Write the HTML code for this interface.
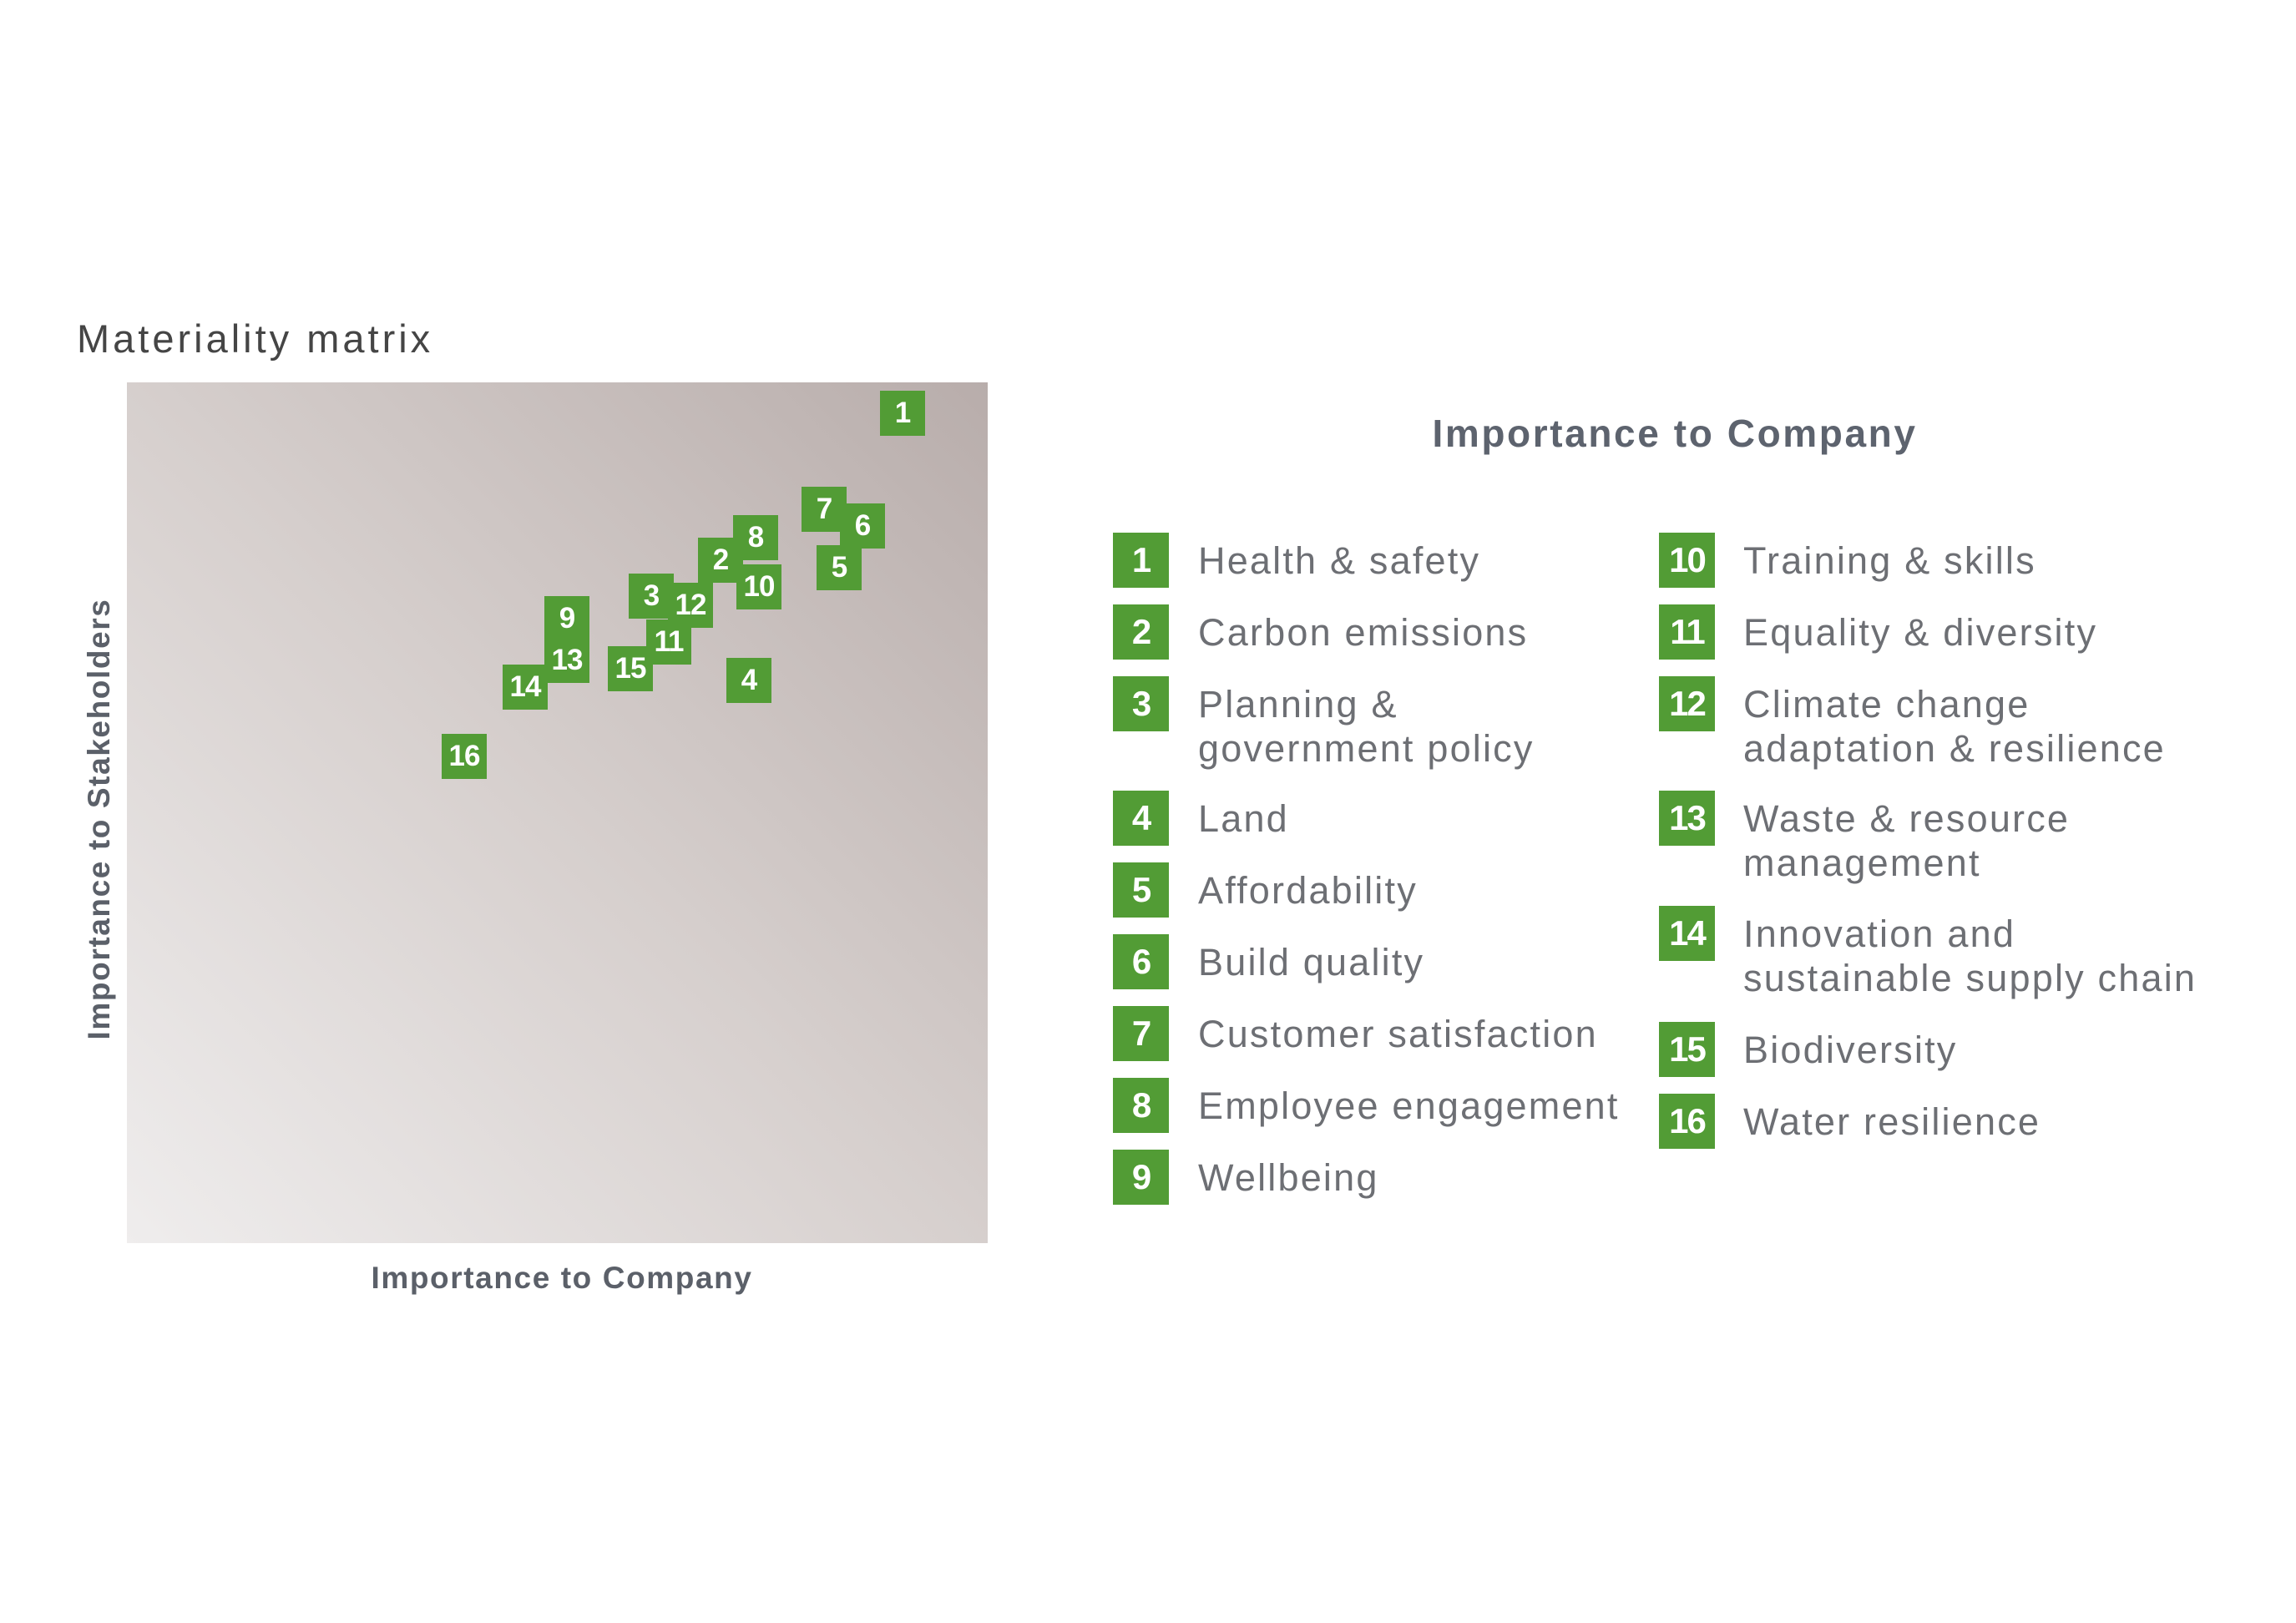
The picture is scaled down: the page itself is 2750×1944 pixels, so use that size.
<!DOCTYPE html>
<html><head><meta charset="utf-8"><style>
body{margin:0;width:2750px;height:1944px;background:#fff;position:relative;overflow:hidden;font-family:"Liberation Sans",sans-serif}
.a{position:absolute}
.m{position:absolute;width:54px;height:54px;background:#529c35;color:#fff;font-weight:bold;font-size:35px;line-height:54px;text-align:center;letter-spacing:-1px}
.b{position:absolute;width:67px;height:66px;background:#529c35;color:#fff;font-weight:bold;font-size:42px;line-height:66px;text-align:center;letter-spacing:-2px}
.t{position:absolute;font-size:45px;color:#6d6f74;letter-spacing:2.2px;line-height:53px;white-space:nowrap}
</style></head><body>
<div class="a" style="left:92px;top:378px;font-size:47px;color:#454545;letter-spacing:4px">Materiality matrix</div>
<div class="a" style="left:152px;top:458px;width:1031px;height:1031px;background:linear-gradient(45deg,#efeded 0%,#d6cfcd 50%,#b8adab 100%)"></div>
<div class="m" style="left:1054px;top:468px">1</div>
<div class="m" style="left:960px;top:583px">7</div>
<div class="m" style="left:1006px;top:603px">6</div>
<div class="m" style="left:978px;top:653px">5</div>
<div class="m" style="left:836px;top:644px">2</div>
<div class="m" style="left:878px;top:617px">8</div>
<div class="m" style="left:882px;top:676px">10</div>
<div class="m" style="left:753px;top:687px">3</div>
<div class="m" style="left:800px;top:698px">12</div>
<div class="m" style="left:774px;top:742px">11</div>
<div class="m" style="left:652px;top:714px">9</div>
<div class="m" style="left:652px;top:764px">13</div>
<div class="m" style="left:728px;top:774px">15</div>
<div class="m" style="left:602px;top:796px">14</div>
<div class="m" style="left:870px;top:788px">4</div>
<div class="m" style="left:529px;top:879px">16</div>
<div class="a" style="left:119px;top:981px;transform:translate(-50%,-50%) rotate(-90deg);font-size:37px;font-weight:bold;color:#5b6069;letter-spacing:1.6px;white-space:nowrap">Importance to Stakeholders</div>
<div class="a" style="left:673px;top:1531px;transform:translate(-50%,-50%);font-size:37px;font-weight:bold;color:#5b6069;letter-spacing:1.6px;white-space:nowrap">Importance to Company</div>
<div class="a" style="left:2006px;top:519px;transform:translate(-50%,-50%);font-size:46px;font-weight:bold;color:#5d636e;letter-spacing:2.6px;white-space:nowrap">Importance to Company</div>

<div class="b" style="left:1333px;top:638px">1</div><div class="t" style="left:1435px;top:645px">Health &amp; safety</div>
<div class="b" style="left:1333px;top:724px">2</div><div class="t" style="left:1435px;top:731px">Carbon emissions</div>
<div class="b" style="left:1333px;top:810px">3</div><div class="t" style="left:1435px;top:817px">Planning &amp;<br>government policy</div>
<div class="b" style="left:1333px;top:947px">4</div><div class="t" style="left:1435px;top:954px">Land</div>
<div class="b" style="left:1333px;top:1033px">5</div><div class="t" style="left:1435px;top:1040px">Affordability</div>
<div class="b" style="left:1333px;top:1119px">6</div><div class="t" style="left:1435px;top:1126px">Build quality</div>
<div class="b" style="left:1333px;top:1205px">7</div><div class="t" style="left:1435px;top:1212px">Customer satisfaction</div>
<div class="b" style="left:1333px;top:1291px">8</div><div class="t" style="left:1435px;top:1298px">Employee engagement</div>
<div class="b" style="left:1333px;top:1377px">9</div><div class="t" style="left:1435px;top:1384px">Wellbeing</div>

<div class="b" style="left:1987px;top:638px">10</div><div class="t" style="left:2088px;top:645px">Training &amp; skills</div>
<div class="b" style="left:1987px;top:724px">11</div><div class="t" style="left:2088px;top:731px">Equality &amp; diversity</div>
<div class="b" style="left:1987px;top:810px">12</div><div class="t" style="left:2088px;top:817px">Climate change<br>adaptation &amp; resilience</div>
<div class="b" style="left:1987px;top:947px">13</div><div class="t" style="left:2088px;top:954px">Waste &amp; resource<br>management</div>
<div class="b" style="left:1987px;top:1085px">14</div><div class="t" style="left:2088px;top:1092px">Innovation and<br>sustainable supply chain</div>
<div class="b" style="left:1987px;top:1224px">15</div><div class="t" style="left:2088px;top:1231px">Biodiversity</div>
<div class="b" style="left:1987px;top:1310px">16</div><div class="t" style="left:2088px;top:1317px">Water resilience</div>
</body></html>
